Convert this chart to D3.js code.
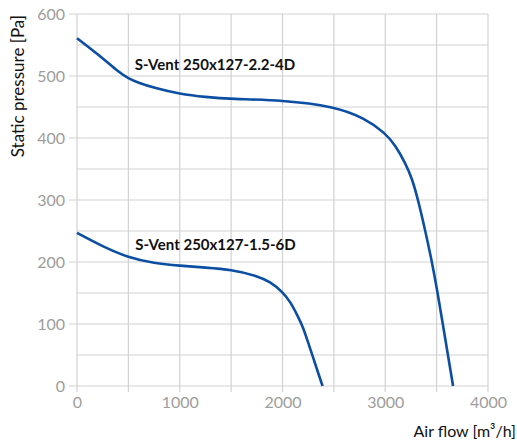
<!DOCTYPE html>
<html>
<head>
<meta charset="utf-8">
<script src="https://cdn.jsdelivr.net/npm/d3@7"></script>
<style>
  body { margin: 0; background: #fff; }
  svg { display: block; font-family: Lato, "Noto Sans", sans-serif; }
</style>
</head>
<body>
<div id="chart"></div>
<script>
// curve readings [air flow m3/h, static pressure Pa]
var flowA = [0, 250, 400, 500, 600, 750, 1000, 1250, 1500, 2000, 2500, 2800, 3000, 3100, 3200, 3260, 3320, 3390, 3455, 3510, 3560, 3610, 3660];
var pressA = [561, 529, 507, 496, 489, 481, 471, 466, 463, 461, 451, 432, 408, 388, 358, 335, 300, 250, 200, 150, 100, 50, 0];
var flowB = [0, 250, 500, 750, 1000, 1250, 1500, 1750, 1880, 2000, 2080, 2150, 2200, 2250, 2300, 2345, 2390];
var pressB = [247, 225, 207, 198, 194, 191, 188, 178, 168, 152, 135, 112, 95, 70, 45, 22, 0];
var names = ["S-Vent 250x127-2.2-4D", "S-Vent 250x127-1.5-6D"];
var xTicks = [0, 1000, 2000, 3000, 4000];
var yTicks = [0, 100, 200, 300, 400, 500, 600];

var W = 517, H = 441;
var margins = { top: 14, right: 29, bottom: 55, left: 77 };
var width = W - margins.left - margins.right;
var height = H - margins.top - margins.bottom;

var svg = d3.select('#chart').append('svg')
  .attr('width', W)
  .attr('height', H);

var g = svg.append('g')
  .attr('transform', 'translate(' + margins.left + ',' + margins.top + ')');

var x = d3.scaleLinear().domain([0, 4000]).range([0, width]);
var y = d3.scaleLinear().domain([0, 600]).range([height, 0]);

// grid
var gridColor = '#d2d2d2';
g.append('g').selectAll('line')
  .data(d3.range(0, 4001, 500))
  .join('line')
    .attr('x1', function (d) { return x(d); })
    .attr('x2', function (d) { return x(d); })
    .attr('y1', 0)
    .attr('y2', height + 6)
    .attr('stroke', gridColor)
    .attr('stroke-width', 1.2);

g.append('g').selectAll('line')
  .data(d3.range(0, 601, 50))
  .join('line')
    .attr('x1', function (d) { return d % 100 === 0 ? -8 : 0; })
    .attr('x2', width)
    .attr('y1', function (d) { return y(d); })
    .attr('y2', function (d) { return y(d); })
    .attr('stroke', gridColor)
    .attr('stroke-width', 1.2);

// axes labels (no domain lines, grid does the job)
var fmt = d3.format('d');
var xaxis = g.append('g')
  .attr('transform', 'translate(0,' + height + ')')
  .call(d3.axisBottom(x).tickValues(xTicks).tickFormat(fmt).tickSize(0).tickPadding(11));
var yaxis = g.append('g')
  .call(d3.axisLeft(y).tickValues(yTicks).tickFormat(fmt).tickSize(0).tickPadding(12));
[xaxis, yaxis].forEach(function (a) {
  a.select('.domain').remove();
  a.selectAll('text')
    .attr('fill', '#9d9d9d')
    .style('font-size', '16px')
    .style('font-family', 'Lato, "Noto Sans", sans-serif');
});
yaxis.selectAll('text').attr('dy', '0.35em');

// curves (b-spline to smooth out reading noise)
var line = d3.line()
  .x(function (d) { return x(d[0]); })
  .y(function (d) { return y(d[1]); })
  .curve(d3.curveBasis);

var series = [d3.zip(flowA, pressA), d3.zip(flowB, pressB)];
g.selectAll('path.curve')
  .data(series)
  .join('path')
    .attr('class', 'curve')
    .attr('fill', 'none')
    .attr('stroke', '#0b4ea2')
    .attr('stroke-width', 2.6)
    .attr('stroke-linejoin', 'round')
    .attr('d', line);

// curve names
var namePos = [[1343, 510], [1348, 219]];
g.selectAll('text.name')
  .data(names)
  .join('text')
    .attr('class', 'name')
    .attr('x', function (d, i) { return x(namePos[i][0]); })
    .attr('y', function (d, i) { return y(namePos[i][1]); })
    .attr('text-anchor', 'middle')
    .attr('fill', '#111')
    .style('font-size', '15px')
    .style('font-weight', 'bold')
    .text(function (d) { return d; });

// axis titles
svg.append('text')
  .attr('transform', 'translate(24,15) rotate(-90)')
  .attr('text-anchor', 'end')
  .attr('fill', '#111')
  .style('font-size', '17px')
  .text('Static pressure [Pa]');

svg.append('text')
  .attr('x', 516)
  .attr('y', 437)
  .attr('text-anchor', 'end')
  .attr('fill', '#111')
  .style('font-size', '16px')
  .text('Air flow [m³/h]');
</script>
</body>
</html>
